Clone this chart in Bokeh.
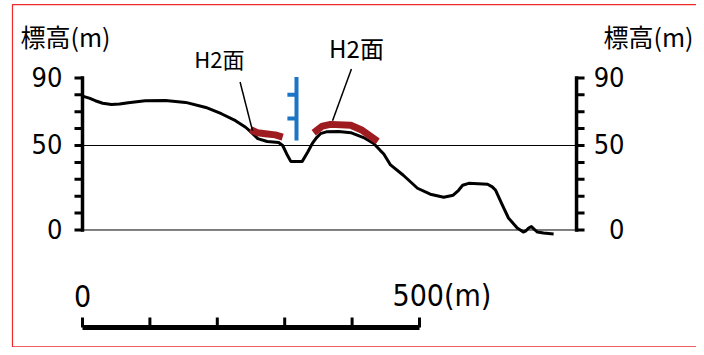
import numpy as np
from bokeh.plotting import figure
from bokeh.models import Range1d
from bokeh.core.properties import value
from bokeh.embed import file_html
from bokeh.resources import INLINE

# ---- data (distance along profile in m, elevation in m) ----
dist = [0, 10, 19, 30, 43, 55, 68, 93, 123, 153, 183, 206, 227, 242, 251, 260,
        274, 291, 297, 303, 309, 326, 334, 341, 347, 353, 363, 380, 398, 417,
        432, 442, 447, 457, 476, 497, 516, 536, 550, 558, 564, 573, 601, 608,
        613, 623, 632, 645, 654, 658, 662, 666, 670, 675, 684, 699]
elev = [79.2, 78.0, 76.5, 75.0, 74.2, 74.5, 75.3, 76.5, 76.6, 75.5, 72.5, 68.8,
        64.7, 60.8, 57.6, 54.1, 52.4, 51.8, 50.0, 45.0, 40.6, 40.6, 46.0, 51.2,
        54.5, 57.0, 58.2, 58.3, 57.6, 54.7, 51.2, 47.0, 45.0, 38.5, 32.4, 24.7,
        21.2, 19.4, 20.6, 23.5, 26.5, 27.6, 27.1, 25.5, 23.5, 14.7, 7.1, 1.2,
        -1.2, -0.5, 1.2, 2.0, 0.5, -1.2, -1.8, -2.4]

# H2 terrace surfaces
h2a_dist = [249, 260, 271, 286, 297]
h2a_elev = [59.5, 57.5, 57.0, 56.3, 55.0]
h2b_dist = [343, 356, 368, 398, 415, 438]
h2b_elev = [57.5, 61.5, 62.5, 62.0, 59.0, 52.5]
h2_label = "H2面"

# blue marker (river position)
river_x = 317.5
river_top, river_bottom = 90.6, 53.0
river_ticks = [80, 66]
river_tick_left = 304

# axes
elev_ticks = [0, 10, 20, 30, 40, 50, 60, 70, 80, 90]
elev_label_pos = [0, 50, 90]
elev_labels = ["0", "50", "90"]
ref_lines = [0, 50]
axis_title = "標高(m)"
right_axis_x = 733

scale_ticks = [0, 100, 200, 300, 400, 500]
scale_y = -57.7
scale_label_pos = [0, 500]
scale_labels = ["0", "500(m)"]

NUM_FONT = value("DejaVu Sans Condensed")
CJK_FONT = value("Noto Sans CJK JP")

p = figure(width=696, height=347, x_range=Range1d(-121.66, 910.98),
           y_range=Range1d(-69.53, 135.80), output_backend="svg",
           toolbar_location=None, min_border=0, title=None,
           x_axis_location=None, y_axis_location=None)
p.outline_line_color = None
p.background_fill_color = "white"
p.border_fill_color = "white"
p.xgrid.visible = False
p.ygrid.visible = False

# frame border (red)
p.quad(left=[-103.9], right=[1000], top=[133.4], bottom=[-69.2],
       fill_color=None, line_color="#ee2a2a", line_width=1.2)

# reference lines at 0 and 50
p.segment(x0=[0] * len(ref_lines), x1=[right_axis_x] * len(ref_lines),
          y0=ref_lines, y1=ref_lines, line_color="black", line_width=1)

# left and right elevation axes
for ax_x, ang in [(0, np.pi), (right_axis_x, 0)]:
    p.segment(x0=[ax_x], x1=[ax_x], y0=[min(elev_ticks)], y1=[max(elev_ticks)],
              line_color="black", line_width=3.5, line_cap="square")
    p.ray(x=[ax_x] * len(elev_ticks), y=elev_ticks, length=8, length_units="screen",
          angle=ang, line_color="black", line_width=3)

p.text(x=[0] * 3, y=elev_label_pos, text=elev_labels, x_offset=-20, y_offset=-1,
       text_align="right", text_baseline="middle", text_font=NUM_FONT,
       text_font_size=value("27px"), text_color="black")
p.text(x=[right_axis_x] * 3, y=elev_label_pos, text=elev_labels, x_offset=48, y_offset=-1,
       text_align="right", text_baseline="middle", text_font=NUM_FONT,
       text_font_size=value("27px"), text_color="black")

# axis titles
p.text(x=[-92, 773], y=[114.5, 114.5], text=[axis_title, axis_title],
       text_align="left", text_baseline="middle", text_font=CJK_FONT,
       text_font_size=value("25px"), text_color="black")

# profile
p.line(dist, elev, line_color="black", line_width=3, line_join="round")

# H2 surfaces
p.line(h2a_dist, h2a_elev, line_color="#9e1b1f", line_width=7, line_cap="butt", line_join="round")
p.line(h2b_dist, h2b_elev, line_color="#9e1b1f", line_width=7, line_cap="butt", line_join="round")

# leader lines and labels
p.segment(x0=[233.8, 399], y0=[87.6, 95.3], x1=[252.2, 371], y1=[58.8, 64.7],
          line_color="black", line_width=1.5)
p.text(x=[203], y=[102], text=[h2_label], text_align="center", text_baseline="middle",
       text_font=CJK_FONT, text_font_size=value("22px"), text_color="black")
p.text(x=[406.5], y=[108], text=[h2_label], text_align="center", text_baseline="middle",
       text_font=CJK_FONT, text_font_size=value("24px"), text_color="black")

# river marker
p.segment(x0=[river_x], x1=[river_x], y0=[river_bottom], y1=[river_top],
          line_color="#1b74c4", line_width=4)
p.segment(x0=[river_tick_left] * 2, x1=[river_x] * 2, y0=river_ticks, y1=river_ticks,
          line_color="#1b74c4", line_width=4)

# horizontal scale bar
p.segment(x0=[scale_ticks[0]], x1=[scale_ticks[-1]], y0=[scale_y], y1=[scale_y],
          line_color="black", line_width=5, line_cap="butt")
p.ray(x=scale_ticks, y=[scale_y] * len(scale_ticks), length=10, length_units="screen",
      angle=np.pi / 2, line_color="black", line_width=3)
p.text(x=[scale_label_pos[0]], y=[-38.8], text=[scale_labels[0]], text_align="center",
       text_baseline="middle", text_font=NUM_FONT, text_font_size=value("30px"),
       text_color="black")
p.text(x=[scale_label_pos[1]], y=[-38.8], text=[scale_labels[1]], x_offset=-27,
       text_align="left", text_baseline="middle", text_font=NUM_FONT,
       text_font_size=value("30px"), text_color="black")

open("out.html", "w").write(file_html(p, INLINE))
